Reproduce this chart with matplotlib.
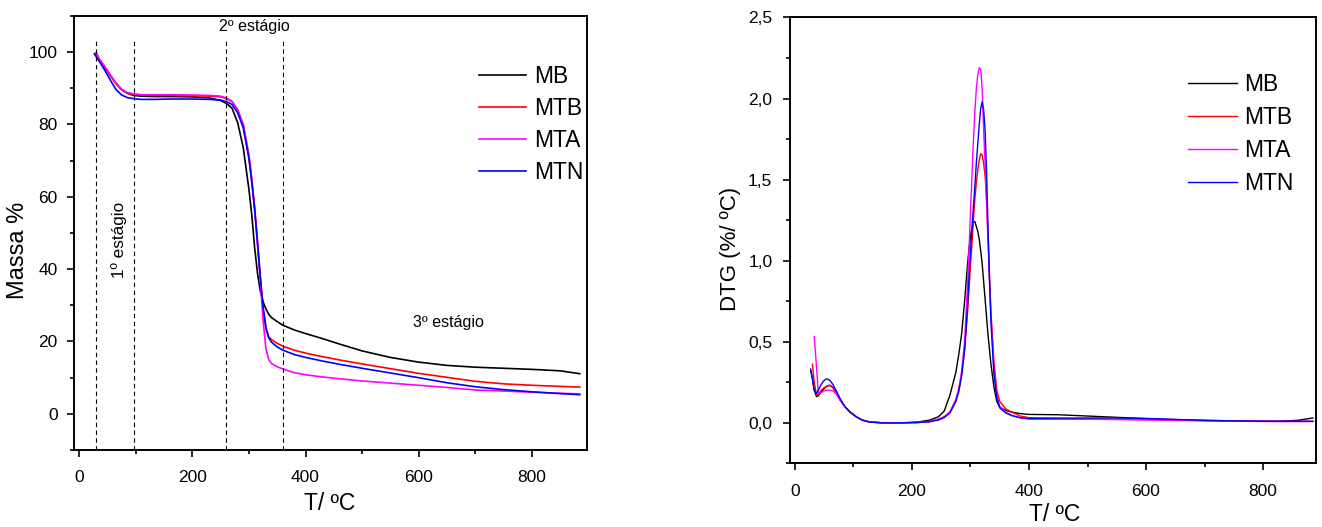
import numpy as np
import matplotlib
matplotlib.use("Agg")
import matplotlib.pyplot as plt
from matplotlib.ticker import MultipleLocator, FuncFormatter

# ── Dados TGA (massa %) ───────────────────────────────────────────────────
T_tga = [27, 30, 35, 45, 55, 65, 75, 85, 96, 110, 130, 160, 200, 230, 250, 260,
         270, 280, 290, 300, 305, 310, 315, 320, 325, 330, 335, 340, 350, 360,
         380, 400, 430, 460, 500, 550, 600, 650, 700, 750, 800, 850, 885]

tga_MB = [99.5, 98.8, 97.8, 95.8, 93.5, 91.3, 89.6, 88.6, 88.0, 87.8, 87.7, 87.7,
          87.6, 87.3, 86.6, 85.8, 84.5, 80.5, 73.5, 62.0, 55.0, 46.0, 39.0, 34.0,
          31.0, 29.0, 27.5, 26.6, 25.5, 24.5, 23.2, 22.2, 20.8, 19.3, 17.4, 15.6,
          14.3, 13.4, 12.9, 12.6, 12.3, 11.9, 11.1]
tga_MTB = [np.nan, 99.8, 98.0, 95.8, 93.4, 91.2, 89.6, 88.7, 88.3, 88.1, 88.0,
           88.0, 87.9, 87.8, 87.6, 87.1, 86.3, 84.0, 79.8, 71.0, 64.5, 57.0, 48.0,
           38.0, 29.0, 23.5, 21.3, 20.5, 19.5, 18.7, 17.6, 16.8, 15.8, 14.9, 13.8,
           12.5, 11.2, 10.1, 9.0, 8.3, 7.9, 7.6, 7.4]
tga_MTA = [np.nan, 99.8, 98.2, 96.0, 93.6, 91.4, 89.7, 88.8, 88.4, 88.2, 88.2,
           88.2, 88.1, 88.0, 87.8, 87.3, 86.4, 84.0, 80.0, 71.5, 65.0, 57.0, 47.0,
           37.0, 26.0, 18.0, 15.0, 13.9, 13.0, 12.4, 11.4, 10.8, 10.2, 9.7, 9.1,
           8.5, 7.9, 7.3, 6.6, 6.3, 6.0, 5.7, 5.5]
tga_MTN = [99.5, 98.7, 97.5, 95.0, 92.2, 89.6, 88.1, 87.4, 87.1, 86.9, 86.9, 87.0,
           87.0, 86.9, 86.7, 86.3, 85.5, 83.2, 79.0, 70.5, 64.0, 56.5, 47.5, 38.0,
           29.5, 24.0, 21.0, 19.8, 18.5, 17.6, 16.4, 15.6, 14.6, 13.7, 12.6, 11.3,
           10.0, 8.6, 7.5, 6.7, 6.1, 5.6, 5.3]

# limites dos estágios (linhas tracejadas)
stage_bounds = [30, 96, 260, 361]

# ── Dados DTG (%/ºC) ──────────────────────────────────────────────────────
T_dtg = [27, 30, 33, 37, 40, 45, 50, 55, 60, 65, 70, 77, 85, 94, 105, 115, 128,
         150, 180, 210, 230, 245, 255, 265, 275, 280, 285, 290, 295, 297.5, 300,
         302.5, 305, 307.5, 310, 312.5, 315, 317.5, 320, 322.5, 325, 327.5, 330,
         332.5, 335, 340, 345, 350, 360, 370, 385, 400, 450, 500, 550, 600, 650,
         700, 750, 800, 830, 860, 885]

dtg_MB = [0.32, 0.27, 0.20, 0.16, 0.165, 0.19, 0.21, 0.225, 0.23, 0.215, 0.19,
          0.14, 0.10, 0.065, 0.035, 0.015, 0.003, -0.002, -0.002, 0.003, 0.015,
          0.035, 0.07, 0.17, 0.31, 0.42, 0.55, 0.75, 0.98, 1.07, 1.15, 1.20, 1.235,
          1.24, 1.21, 1.18, 1.13, 1.06, 0.98, 0.87, 0.76, 0.65, 0.54, 0.45, 0.36,
          0.22, 0.13, 0.095, 0.075, 0.065, 0.055, 0.05, 0.048, 0.04, 0.032, 0.024,
          0.018, 0.012, 0.009, 0.008, 0.008, 0.014, 0.028]
dtg_MTB = [np.nan, 0.36, 0.25, 0.17, 0.175, 0.20, 0.215, 0.225, 0.23, 0.215, 0.19,
           0.14, 0.10, 0.065, 0.035, 0.015, 0.003, -0.002, -0.002, 0.0, 0.006,
           0.02, 0.035, 0.065, 0.14, 0.20, 0.30, 0.45, 0.68, 0.82, 0.97, 1.10,
           1.25, 1.38, 1.48, 1.56, 1.62, 1.66, 1.65, 1.60, 1.52, 1.38, 1.15, 0.90,
           0.68, 0.38, 0.20, 0.13, 0.085, 0.065, 0.04, 0.03, 0.025, 0.022, 0.02,
           0.018, 0.016, 0.013, 0.01, 0.008, 0.007, 0.007, 0.007]
dtg_MTA = [np.nan, np.nan, 0.53, 0.34, 0.18, 0.185, 0.195, 0.20, 0.20, 0.195, 0.18,
           0.14, 0.10, 0.065, 0.035, 0.015, 0.003, -0.002, -0.002, 0.0, 0.006,
           0.02, 0.035, 0.065, 0.14, 0.21, 0.32, 0.50, 0.85, 1.07, 1.30, 1.52,
           1.74, 1.92, 2.06, 2.15, 2.19, 2.18, 2.06, 1.80, 1.60, 1.35, 1.12, 0.88,
           0.66, 0.34, 0.17, 0.10, 0.065, 0.045, 0.028, 0.02, 0.02, 0.02, 0.018,
           0.016, 0.013, 0.01, 0.008, 0.006, 0.006, 0.006, 0.006]
dtg_MTN = [0.33, 0.27, 0.20, 0.18, 0.20, 0.235, 0.26, 0.27, 0.26, 0.235, 0.20,
           0.15, 0.10, 0.065, 0.035, 0.015, 0.003, -0.002, -0.002, 0.0, 0.005,
           0.015, 0.03, 0.06, 0.13, 0.19, 0.29, 0.45, 0.72, 0.90, 1.05, 1.20,
           1.33, 1.46, 1.60, 1.72, 1.84, 1.94, 1.98, 1.93, 1.80, 1.55, 1.20, 0.88,
           0.62, 0.30, 0.15, 0.09, 0.06, 0.043, 0.03, 0.025, 0.027, 0.028, 0.028,
           0.025, 0.019, 0.014, 0.01, 0.008, 0.008, 0.008, 0.008]

labels = ["MB", "MTB", "MTA", "MTN"]
colors = ["#000000", "#ff0000", "#ff00ff", "#0000ff"]

# o original usa uma fonte estreita; Liberation Sans fica mais perto em largura
plt.rcParams["font.family"] = ["Liberation Sans", "DejaVu Sans"]


def style_axes(ax, xpad, ypad):
    for s in ax.spines.values():
        s.set_linewidth(1.4)
    ax.tick_params(which="both", direction="out", top=False, right=False,
                   width=1.2, labelsize=12.5)
    ax.tick_params(which="major", length=5)
    ax.tick_params(which="minor", length=3)
    ax.tick_params(axis="x", which="major", pad=xpad)
    ax.tick_params(axis="y", which="major", pad=ypad)


fig = plt.figure(figsize=(13.22, 5.27), dpi=100)
ax1 = fig.add_axes([0.0557, 0.146, 0.388, 0.824])
ax2 = fig.add_axes([0.5973, 0.1214, 0.398, 0.8454])

# ── TGA ───────────────────────────────────────────────────────────────────
for y, lab, c in zip([tga_MB, tga_MTB, tga_MTA, tga_MTN], labels, colors):
    ax1.plot(T_tga, y, color=c, lw=1.2, label=lab)

ax1.vlines(stage_bounds, -10, 103, colors="black", linestyles=(0, (4, 3)), lw=0.8)
ax1.set_xlim(-10, 897)
ax1.set_ylim(-10, 110)
ax1.xaxis.set_major_locator(MultipleLocator(200))
ax1.xaxis.set_minor_locator(MultipleLocator(100))
ax1.set_yticks([0, 20, 40, 60, 80, 100])
ax1.yaxis.set_minor_locator(MultipleLocator(10))
style_axes(ax1, xpad=9, ypad=6.5)

ax1.set_ylabel("Massa %", fontsize=17)
ax1.yaxis.set_label_coords(-0.109, 0.46)
ax1.yaxis.label.set_va("center")
ax1.set_xlabel("T/ ºC", fontsize=16.5)
ax1.xaxis.set_label_coords(0.5, -0.122)
ax1.xaxis.label.set_va("center")

ax1.text(310, 107, "2º estágio", ha="center", va="center", fontsize=11.5)
ax1.text(71, 48, "1º estágio", ha="center", va="center", fontsize=12.3,
         rotation=90)
ax1.text(652, 25.2, "3º estágio", ha="center", va="center", fontsize=11.5)

ax1.legend(loc="upper left", bbox_to_anchor=(0.79, 0.886), frameon=False,
           fontsize=16.5, handlelength=2.05, handletextpad=0.35,
           labelspacing=0.39, borderpad=0, borderaxespad=0)

# ── DTG ───────────────────────────────────────────────────────────────────
for y, lab, c in zip([dtg_MB, dtg_MTB, dtg_MTA, dtg_MTN], labels, colors):
    ax2.plot(T_dtg, y, color=c, lw=1.0, label=lab)

ax2.set_xlim(-9, 890)
ax2.set_ylim(-0.25, 2.5)
ax2.xaxis.set_major_locator(MultipleLocator(200))
ax2.xaxis.set_minor_locator(MultipleLocator(100))
ax2.yaxis.set_major_locator(MultipleLocator(0.5))
ax2.yaxis.set_minor_locator(MultipleLocator(0.25))
ax2.yaxis.set_major_formatter(FuncFormatter(lambda v, p: f"{v:.1f}".replace(".", ",")))
style_axes(ax2, xpad=10, ypad=7.5)

ax2.set_ylabel("DTG (%/ ºC)", fontsize=16)
ax2.yaxis.set_label_coords(-0.113, 0.481)
ax2.yaxis.label.set_va("center")
ax2.set_xlabel("T/ ºC", fontsize=16.5)
ax2.xaxis.set_label_coords(0.504, -0.1145)
ax2.xaxis.label.set_va("center")

ax2.legend(loc="upper left", bbox_to_anchor=(0.758, 0.876), frameon=False,
           fontsize=16.5, handlelength=2.1, handletextpad=0.35,
           labelspacing=0.44, borderpad=0, borderaxespad=0)

fig.savefig("out.png", dpi=100)
